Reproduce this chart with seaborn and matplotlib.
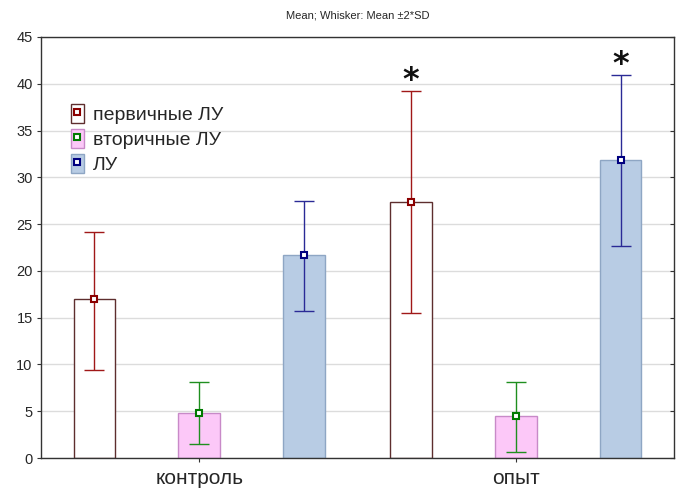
import matplotlib
matplotlib.use("Agg")
import matplotlib.pyplot as plt
import seaborn as sns
import pandas as pd
from matplotlib.patches import Patch
from matplotlib.lines import Line2D

groups = ["контроль", "опыт"]
series = ["первичные ЛУ", "вторичные ЛУ", "ЛУ"]
means = {
    "первичные ЛУ": [17.0, 27.4],
    "вторичные ЛУ": [4.8, 4.5],
    "ЛУ": [21.7, 31.9],
}
lower = {
    "первичные ЛУ": [9.4, 15.5],
    "вторичные ЛУ": [1.5, 0.6],
    "ЛУ": [15.7, 22.7],
}
upper = {
    "первичные ЛУ": [24.2, 39.2],
    "вторичные ЛУ": [8.1, 8.1],
    "ЛУ": [27.5, 40.9],
}
significant = {
    "первичные ЛУ": [False, True],
    "вторичные ЛУ": [False, False],
    "ЛУ": [False, True],
}

fills = {"первичные ЛУ": "#ffffff", "вторичные ЛУ": "#fcc8f8", "ЛУ": "#b8cce4"}
edges = {"первичные ЛУ": "#5e2e2e", "вторичные ЛУ": "#c88ac8", "ЛУ": "#8ea6c4"}
err_colors = {"первичные ЛУ": "#a01818", "вторичные ЛУ": "#1f8f1f", "ЛУ": "#2a2a96"}
mark_colors = {"первичные ЛУ": "#8b0000", "вторичные ЛУ": "#007a00", "ЛУ": "#00007f"}

rows = []
for s in series:
    for g, m in zip(groups, means[s]):
        rows.append({"group": g, "series": s, "value": m})
df = pd.DataFrame(rows)

sns.set_style("white")
plt.rcParams["font.family"] = ["Liberation Sans", "DejaVu Sans"]

fig = plt.figure(figsize=(6.81, 4.88), dpi=100)
ax = fig.add_axes([41 / 681, 1 - 458 / 488, (674 - 41) / 681, (458 - 37) / 488])

sns.barplot(data=df, x="group", y="value", hue="series", hue_order=series,
            order=groups, palette=fills, saturation=1, width=0.993, gap=0.6,
            errorbar=None, legend=False, ax=ax, zorder=2)

for s, cont in zip(series, ax.containers):
    for bar in cont:
        bar.set_edgecolor(edges[s])
        bar.set_linewidth(1.0)
    xs = [b.get_x() + b.get_width() / 2 for b in cont]
    m = means[s]
    yerr = [[mi - lo for mi, lo in zip(m, lower[s])],
            [up - mi for mi, up in zip(m, upper[s])]]
    ax.errorbar(xs, m, yerr=yerr, fmt="none", ecolor=err_colors[s],
                elinewidth=1.0, capsize=7.5, capthick=1.0, zorder=3)
    ax.plot(xs, m, ls="none", marker="s", ms=5, mfc="white",
            mec=mark_colors[s], mew=1.5, zorder=4)
    for x, up, sig in zip(xs, upper[s], significant[s]):
        if sig:
            ax.text(x, up - 0.5, "*", ha="center", va="bottom",
                    fontsize=23, fontweight="bold", color="#111111",
                    family="DejaVu Sans")

ax.set_xlim(-0.5, 1.5)
ax.set_ylim(0, 45)
ax.set_yticks(range(0, 46, 5))
ax.yaxis.grid(True, color="#dcdcdc", linewidth=1.0, zorder=0)
ax.set_axisbelow(True)
ax.set_xlabel("")
ax.set_ylabel("")
ax.tick_params(axis="y", labelsize=10.5, length=3, direction="out", left=True,
               color="#333333", pad=3)
ax.tick_params(axis="x", labelsize=15, length=3, direction="out", bottom=True,
               color="#333333", pad=5)
for sp in ax.spines.values():
    sp.set_color("#333333")
    sp.set_linewidth(1.0)

ax2 = ax.twinx()
ax2.set_ylim(ax.get_ylim())
ax2.set_yticks(ax.get_yticks())
ax2.tick_params(axis="y", direction="in", length=3, right=True,
                labelright=False, color="#333333")
for sp in ax2.spines.values():
    sp.set_visible(False)

ax.set_title("Mean; Whisker: Mean \u00b12*SD", fontsize=8, pad=13)

handles = []
for s in series:
    p = Patch(facecolor=fills[s], edgecolor=edges[s], linewidth=1.0)
    mk = Line2D([], [], ls="none", marker="s", ms=4, mfc="white",
                mec=mark_colors[s], mew=1.5)
    handles.append((p, mk))
ax.legend(handles, series, loc="upper left", bbox_to_anchor=(0.035, 0.86),
          frameon=False, fontsize=14, handlelength=0.65, handleheight=1.15,
          handletextpad=0.5, labelspacing=0.25, borderaxespad=0)

fig.savefig("out.png", dpi=100)
